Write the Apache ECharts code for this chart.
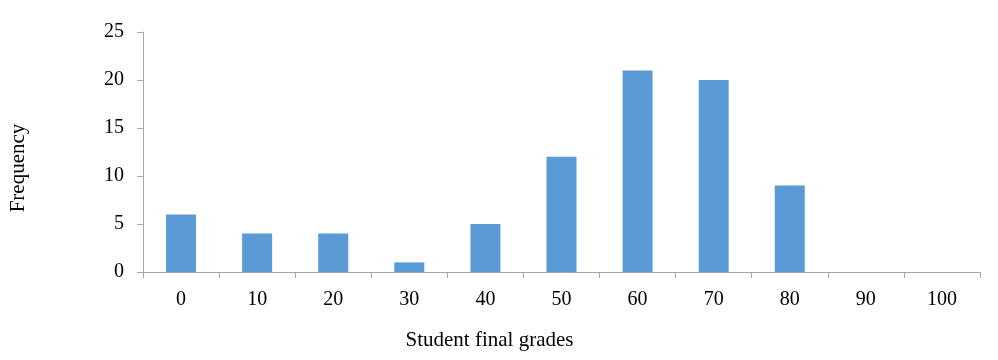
<!DOCTYPE html>
<html>
<head>
<meta charset="utf-8">
<script src="https://cdn.jsdelivr.net/npm/echarts@6/dist/echarts.min.js"></script>
<style>
  html, body { margin: 0; padding: 0; background: #fff; }
  #chart { width: 998px; height: 360px; }
</style>
</head>
<body>
<div id="chart"></div>
<script>
// Grade bins and how many students fall in each
const grades = ['0', '10', '20', '30', '40', '50', '60', '70', '80', '90', '100'];
const frequency = [6, 4, 4, 1, 5, 12, 21, 20, 9, 0, 0];
const yTicks = { min: 0, max: 25, interval: 5 };

const axisGrey = '#a6a6a6';
const serif = '"Liberation Serif", "Times New Roman", serif';

const chart = echarts.init(document.getElementById('chart'));
chart.setOption({
  animation: false,
  grid: { left: 142, right: 18, top: 32, bottom: 88 },
  xAxis: {
    type: 'category',
    data: grades,
    name: 'Student final grades',
    nameLocation: 'middle',
    nameGap: 58,
    nameTextStyle: { fontFamily: serif, fontSize: 21, color: '#000', padding: [0, 144, 0, 0] },
    axisLine: { lineStyle: { color: axisGrey, width: 1 } },
    axisTick: { show: true, length: 6, lineStyle: { color: axisGrey } },
    axisLabel: { fontFamily: serif, fontSize: 20, color: '#000', margin: 18 }
  },
  yAxis: {
    type: 'value',
    min: yTicks.min,
    max: yTicks.max,
    interval: yTicks.interval,
    name: 'Frequency',
    nameLocation: 'middle',
    nameGap: 114,
    nameRotate: 90,
    nameTextStyle: { fontFamily: serif, fontSize: 21, color: '#000', padding: [0, 32, 0, 0] },
    axisLine: { show: true, lineStyle: { color: axisGrey, width: 1 } },
    axisTick: { show: true, length: 6, lineStyle: { color: axisGrey } },
    splitLine: { show: false },
    axisLabel: { fontFamily: serif, fontSize: 20, color: '#000', margin: 19 }
  },
  series: [{
    type: 'bar',
    data: frequency,
    barWidth: 30,
    itemStyle: { color: '#5b9bd5' }
  }]
});
</script>
</body>
</html>
